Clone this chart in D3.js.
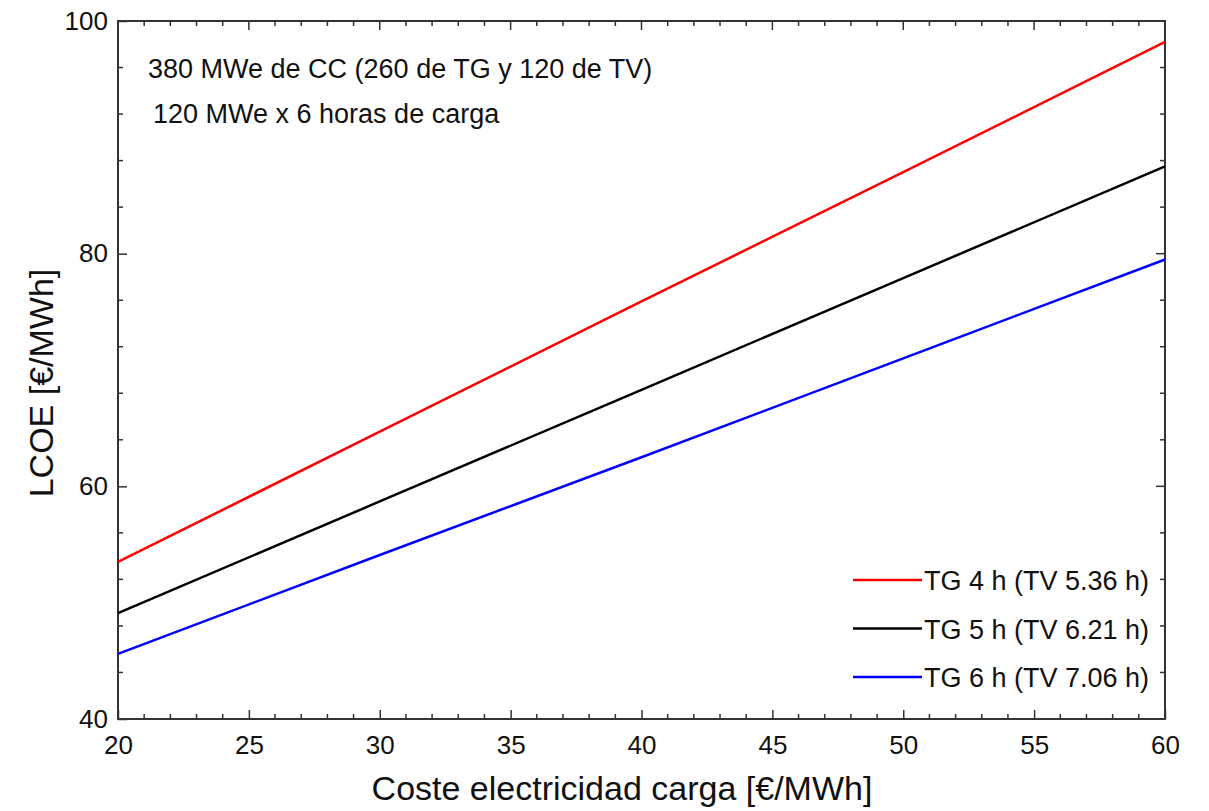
<!DOCTYPE html>
<html>
<head>
<meta charset="utf-8">
<script src="https://cdn.jsdelivr.net/npm/d3@7"></script>
<style>
  body { margin: 0; background: #fff; }
  svg { font-family: "Liberation Sans", Arial, sans-serif; }
</style>
</head>
<body>
<svg id="chart" width="1209" height="811"></svg>
<script>
// data
const xValues = [20, 30, 40, 50, 60];
const seriesNames = ["TG 4 h (TV 5.36 h)", "TG 5 h (TV 6.21 h)", "TG 6 h (TV 7.06 h)"];
const tg4 = [53.5, 64.7, 75.9, 87.0, 98.2];
const tg5 = [49.1, 58.7, 68.3, 77.9, 87.5];
const tg6 = [45.6, 54.1, 62.5, 71.0, 79.5];
const seriesColors = ["#ff0000", "#000000", "#0000ff"];
const xTicks = [20, 25, 30, 35, 40, 45, 50, 55, 60];
const yTicks = [40, 60, 80, 100];
const notes = ["380 MWe de CC (260 de TG y 120 de TV)", "120 MWe x 6 horas de carga"];

const margin = { top: 21, right: 44, bottom: 92, left: 118 };
const width = 1209 - margin.left - margin.right,
      height = 811 - margin.top - margin.bottom;

const svg = d3.select("#chart");
const chart = svg.append("g")
    .attr("transform", `translate(${margin.left},${margin.top})`);

let x = d3.scaleLinear().domain([20, 60]).range([0, width]);
let y = d3.scaleLinear().domain([40, 100]).range([height, 0]);

const series = [tg4, tg5, tg6].map((vals, i) => ({
    name: seriesNames[i],
    color: seriesColors[i],
    values: vals.map((v, j) => ({ x: xValues[j], y: v }))
}));

// minor ticks every 1 on x, every 4 on y
const xMinor = d3.range(20, 60.01, 1).filter(d => d % 5 != 0);
const yMinor = d3.range(40, 100.01, 4).filter(d => d % 20 != 0);

const axisColor = "#333";
const major = 9, minor = 5;

// bottom axis, ticks pointing in
let xAxis = chart.append("g").attr("transform", `translate(0,${height})`);
xAxis.call(d3.axisBottom(x).tickValues(xTicks).tickSizeInner(-major).tickSizeOuter(0).tickPadding(17));
xAxis.selectAll(".tick line").attr("stroke", axisColor).attr("stroke-width", 1.5);
xAxis.selectAll(".tick text").attr("font-size", "26px").attr("fill", "#111");
xAxis.select(".domain").remove();

// left axis
let yAxis = chart.append("g");
yAxis.call(d3.axisLeft(y).tickValues(yTicks).tickSizeInner(-major).tickSizeOuter(0).tickPadding(10));
yAxis.selectAll(".tick line").attr("stroke", axisColor).attr("stroke-width", 1.5);
yAxis.selectAll(".tick text").attr("font-size", "26px").attr("fill", "#111");
yAxis.select(".domain").remove();

// mirrored ticks on top and right
const tickG = chart.append("g").attr("stroke", axisColor).attr("stroke-width", 1.5);
tickG.selectAll(".xt").data(xTicks.concat(xMinor)).join("line")
    .attr("x1", d => x(d)).attr("x2", d => x(d))
    .attr("y1", 0).attr("y2", d => xTicks.includes(d) ? major : minor);
tickG.selectAll(".xb").data(xMinor).join("line")
    .attr("x1", d => x(d)).attr("x2", d => x(d))
    .attr("y1", height).attr("y2", height - minor);
tickG.selectAll(".yr").data(yTicks.concat(yMinor)).join("line")
    .attr("x1", width).attr("x2", d => width - (yTicks.includes(d) ? major : minor))
    .attr("y1", d => y(d)).attr("y2", d => y(d));
tickG.selectAll(".yl").data(yMinor).join("line")
    .attr("x1", 0).attr("x2", minor)
    .attr("y1", d => y(d)).attr("y2", d => y(d));

// frame
chart.append("rect")
    .attr("width", width).attr("height", height)
    .attr("fill", "none").attr("stroke", axisColor).attr("stroke-width", 2);

let line = d3.line()
    .x(d => x(d.x))
    .y(d => y(d.y));

chart.selectAll(".series")
    .data(series)
    .join("path")
    .attr("class", "series")
    .attr("d", d => line(d.values))
    .attr("fill", "none")
    .attr("stroke", d => d.color)
    .attr("stroke-width", 2.5);

// annotations
chart.selectAll(".note")
    .data(notes)
    .join("text")
    .attr("class", "note")
    .attr("x", (d, i) => i == 0 ? 30 : 35)
    .attr("y", (d, i) => 56.5 + i * 45)
    .attr("font-size", "27px")
    .attr("fill", "#111")
    .text(d => d);

// legend
const legend = chart.append("g").attr("transform", `translate(${853 - margin.left},${580 - margin.top})`);
const items = legend.selectAll("g")
    .data(series)
    .join("g")
    .attr("transform", (d, i) => `translate(0,${i * 48.5})`);
items.append("line")
    .attr("x1", 0).attr("x2", 69)
    .attr("stroke", d => d.color).attr("stroke-width", 2.5);
items.append("text")
    .attr("x", 71).attr("y", 10)
    .attr("font-size", "27px")
    .attr("fill", "#111")
    .text(d => d.name);

// axis titles
svg.append("text")
    .attr("x", 622)
    .attr("y", 800)
    .attr("text-anchor", "middle")
    .attr("font-size", "34px")
    .attr("fill", "#111")
    .text("Coste electricidad carga [€/MWh]");

svg.append("text")
    .attr("transform", `translate(53,383) rotate(-90)`)
    .attr("text-anchor", "middle")
    .attr("font-size", "34px")
    .attr("fill", "#111")
    .text("LCOE [€/MWh]");
</script>
</body>
</html>
